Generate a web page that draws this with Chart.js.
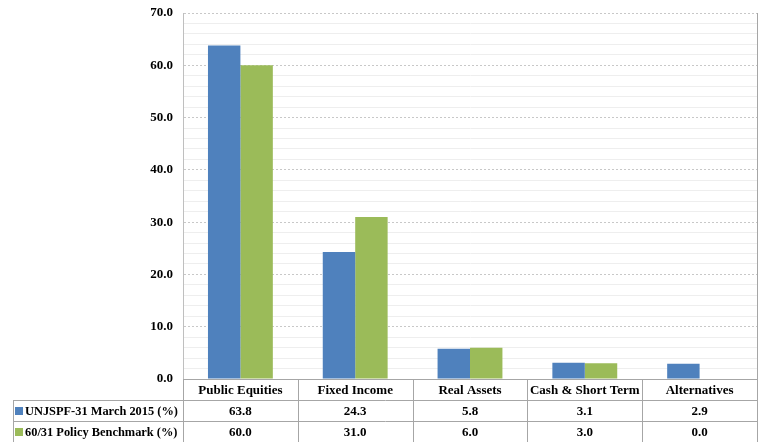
<!DOCTYPE html>
<html>
<head>
<meta charset="utf-8">
<script src="https://cdn.jsdelivr.net/npm/chart.js@4/dist/chart.umd.min.js"></script>
<style>
html,body{margin:0;padding:0;background:#fff;}
#wrap{width:760px;height:442px;position:relative;}
</style>
</head>
<body>
<div id="wrap"><canvas id="c" width="760" height="442"></canvas></div>
<script>
const categories = ["Public Equities", "Fixed Income", "Real Assets", "Cash & Short Term", "Alternatives"];
const seriesNames = ["UNJSPF-31 March 2015 (%)", "60/31 Policy Benchmark (%)"];
const unjspfValues = [63.8, 24.3, 5.8, 3.1, 2.9];
const benchmarkValues = [60.0, 31.0, 6.0, 3.0, 0.0];
const yTickLabels = ["0.0", "10.0", "20.0", "30.0", "40.0", "50.0", "60.0", "70.0"];

const colors = ["#4F81BD", "#9BBB59"];
const FONT = "bold 13px 'Liberation Serif', 'Times New Roman', serif";
const NAME_FONT = "bold 12.4px 'Liberation Serif', 'Times New Roman', serif";
const TABLE_LEFT = 13;
const ROW_H = 21;
const LINE = "#a6a6a6";

const tablePlugin = {
  id: "dataTable",
  afterDraw(chart) {
    const ctx = chart.ctx;
    const area = chart.chartArea;
    const x = chart.scales.x;
    const n = categories.length;
    const colW = (area.right - area.left) / n;
    const top = area.bottom;
    ctx.save();
    ctx.strokeStyle = LINE;
    ctx.lineWidth = 1;
    ctx.beginPath();
    ctx.moveTo(Math.round(area.right) + 0.5, area.top);
    ctx.lineTo(Math.round(area.right) + 0.5, top);
    ctx.moveTo(area.left, Math.round(top) + 0.5);
    ctx.lineTo(area.right + 1, Math.round(top) + 0.5);
    for (let r = 1; r <= 2; r++) {
      const y = Math.round(top + r * ROW_H) + 0.5;
      ctx.moveTo(TABLE_LEFT, y);
      ctx.lineTo(area.right + 1, y);
    }
    ctx.moveTo(TABLE_LEFT + 0.5, top + ROW_H);
    ctx.lineTo(TABLE_LEFT + 0.5, chart.height);
    for (let i = 0; i <= n; i++) {
      const px = Math.round(x.getPixelForValue(0) - colW / 2 + i * colW) + 0.5;
      ctx.moveTo(px, top);
      ctx.lineTo(px, chart.height);
    }
    ctx.stroke();

    ctx.fillStyle = "#000";
    ctx.textBaseline = "middle";
    const data = [unjspfValues, benchmarkValues];
    for (let r = 0; r < 2; r++) {
      const cy = top + (r + 1) * ROW_H + ROW_H / 2 + 1;
      ctx.fillStyle = colors[r];
      ctx.fillRect(TABLE_LEFT + 2, cy - 4.5, 8, 8);
      ctx.fillStyle = "#000";
      ctx.textAlign = "left";
      ctx.font = NAME_FONT;
      ctx.fillText(seriesNames[r], TABLE_LEFT + 12, cy);
      ctx.textAlign = "center";
      ctx.font = FONT;
      for (let i = 0; i < n; i++) {
        ctx.fillText(data[r][i].toFixed(1), x.getPixelForValue(i), cy);
      }
    }
    ctx.restore();
  }
};

new Chart(document.getElementById("c"), {
  type: "bar",
  data: {
    labels: categories,
    datasets: [
      { label: seriesNames[0], data: unjspfValues, backgroundColor: colors[0] },
      { label: seriesNames[1], data: benchmarkValues, backgroundColor: colors[1] }
    ]
  },
  options: {
    responsive: false,
    animation: false,
    devicePixelRatio: 1,
    layout: { padding: { top: 13, right: 3, left: 0, bottom: 0 } },
    plugins: { legend: { display: false }, tooltip: { enabled: false } },
    datasets: { bar: { barPercentage: 1, categoryPercentage: 0.565 } },
    scales: {
      x: {
        grid: { display: false, drawTicks: false },
        border: { display: false },
        ticks: { color: "#000", font: { family: "'Liberation Serif', serif", size: 13, weight: "bold" }, padding: 4, maxRotation: 0, autoSkip: false },
        afterFit(scale) { scale.height = 63; scale.paddingLeft = 0; scale.paddingRight = 0; }
      },
      y: {
        min: 0, max: 70,
        grid: {
          drawTicks: false,
          color: (c) => (c.tick && Math.round(c.tick.value) % 10 === 0) ? "#c8c8c8" : "#eeeeee"
        },
        border: {
          display: true, color: "#bfbfbf",
          dash: (c) => (c.tick && Math.round(c.tick.value) % 10 === 0 && c.tick.value !== 0) ? [2, 2] : []
        },
        ticks: {
          stepSize: 2, autoSkip: false, padding: 10, color: "#000",
          font: { family: "'Liberation Serif', serif", size: 13, weight: "bold" },
          callback: (v) => (Math.round(v) % 10 === 0) ? yTickLabels[Math.round(v) / 10] : ""
        },
        afterFit(scale) { scale.width = 183; scale.paddingTop = 0; scale.paddingBottom = 0; }
      }
    }
  },
  plugins: [tablePlugin]
});
</script>
</body>
</html>
